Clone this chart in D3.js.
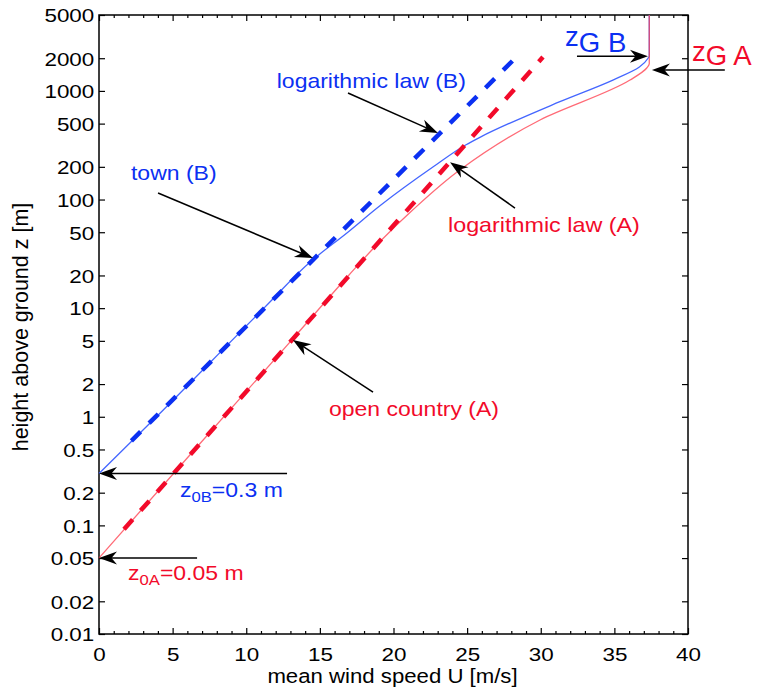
<!DOCTYPE html>
<html>
<head>
<meta charset="utf-8">
<script src="https://cdn.jsdelivr.net/npm/d3@7"></script>
<style>
  html, body { margin: 0; padding: 0; background: #fff; }
  svg { display: block; font-family: "Liberation Sans", Arial, Helvetica, sans-serif; }
</style>
</head>
<body>
<svg id="chart" width="757" height="698"></svg>
<script>
// ---- axis ticks ----
const xTickValues = [0, 5, 10, 15, 20, 25, 30, 35, 40];
const xMinorTicks = [1, 2, 3, 4, 6, 7, 8, 9, 11, 12, 13, 14, 16, 17, 18, 19, 21, 22, 23, 24,
                     26, 27, 28, 29, 31, 32, 33, 34, 36, 37, 38, 39];
const yTickValues = [0.01, 0.02, 0.05, 0.1, 0.2, 0.5, 1, 2, 5, 10, 20, 50, 100, 200, 500, 1000, 2000, 5000];
const yTickLabels = ["0.01", "0.02", "0.05", "0.1", "0.2", "0.5", "1", "2", "5", "10", "20", "50",
                     "100", "200", "500", "1000", "2000", "5000"];

// ---- wind profiles: mean speed U [m/s] against height z [m] ----
// town (B), z0 = 0.3 m
const townU = [0, 3.9, 11.2, 14.5, 16.9, 19.1, 22.7, 24.9, 25.9, 31.3, 34.9, 36.7, 37.3, 37.37, 37.37];
const townZ = [0.3, 1, 10, 27.7, 50, 88, 200, 318, 376, 796, 1259, 1660, 2010, 2090, 5000];
// open country (A), z0 = 0.05 m
const openU = [0, 6.5, 13.1, 16.95, 19.0, 21.3, 24.5, 29.95, 36.06, 37.2, 37.37, 37.37];
const openZ = [0.05, 0.5, 5.1, 20, 40, 80, 187, 540, 1259, 1626, 1780, 5000];
// logarithmic law lines (start and end of each straight line)
const logLawBU = [2.2, 28.6];
const logLawBZ = [0.6, 2220];
const logLawAU = [1.7, 30.15];
const logLawAZ = [0.092, 2050];

// ---- layout ----
const plotLeft = 99, plotRight = 688, plotTop = 15, plotBottom = 634;
const blue = "#0b30f2", red = "#f20a2a";
const blueThin = "#4466ff", redThin = "#ff4050";
const stretch = 1.15;

const svg = d3.select("#chart");
const x = d3.scaleLinear().domain([0, 40]).range([plotLeft, plotRight]);
const y = d3.scaleLog().domain([0.01, 5000]).range([plotBottom, plotTop]);

// ---- axes ----
function styleAxis(g, keepText) {
  g.select(".domain").remove();
  g.attr("font-family", null).attr("font-size", null);
  g.selectAll(".tick line").attr("stroke", "#000").attr("stroke-width", 1.2);
  if (!keepText) g.selectAll(".tick text").remove();
  else g.selectAll(".tick text").attr("fill", "#000").attr("font-size", 19);
}

const gxb = svg.append("g").attr("transform", `translate(0,${plotBottom})`)
  .call(d3.axisBottom(x).tickValues(xTickValues).tickSizeInner(-6).tickSizeOuter(0)
    .tickPadding(14).tickFormat(d => String(d)));
styleAxis(gxb, true);
gxb.selectAll(".tick text").attr("transform", "scale(1.18,1)");

const gxbm = svg.append("g").attr("transform", `translate(0,${plotBottom})`)
  .call(d3.axisBottom(x).tickValues(xMinorTicks).tickSizeInner(-3).tickSizeOuter(0));
styleAxis(gxbm, false);

const gxt = svg.append("g").attr("transform", `translate(0,${plotTop})`)
  .call(d3.axisTop(x).tickValues(xTickValues).tickSizeInner(-6).tickSizeOuter(0));
styleAxis(gxt, false);
const gxtm = svg.append("g").attr("transform", `translate(0,${plotTop})`)
  .call(d3.axisTop(x).tickValues(xMinorTicks).tickSizeInner(-3).tickSizeOuter(0));
styleAxis(gxtm, false);

const gyl = svg.append("g").attr("transform", `translate(${plotLeft},0)`)
  .call(d3.axisLeft(y).tickValues(yTickValues).tickSizeInner(-6).tickSizeOuter(0)
    .tickPadding(4).tickFormat((d, i) => yTickLabels[i]));
styleAxis(gyl, true);
gyl.selectAll(".tick text").attr("dy", "0.36em").attr("transform", "scale(1.18,1)");

const gyr = svg.append("g").attr("transform", `translate(${plotRight},0)`)
  .call(d3.axisRight(y).tickValues(yTickValues).tickSizeInner(-6).tickSizeOuter(0));
styleAxis(gyr, false);

// frame
svg.append("rect")
  .attr("x", plotLeft).attr("y", plotTop)
  .attr("width", plotRight - plotLeft).attr("height", plotBottom - plotTop)
  .attr("fill", "none").attr("stroke", "#000").attr("stroke-width", 1.5);

// axis titles
svg.append("text")
  .attr("transform", `translate(${(plotLeft + plotRight) / 2 - 1},683) scale(${stretch},1)`)
  .attr("text-anchor", "middle").attr("font-size", 19.3).attr("fill", "#000")
  .text("mean wind speed U [m/s]");
svg.append("text")
  .attr("transform", "translate(28,327) rotate(-90)")
  .attr("text-anchor", "middle").attr("font-size", 21.5).attr("fill", "#000")
  .text("height above ground z [m]");

// ---- profile lines ----
const smooth = d3.line().curve(d3.curveMonotoneY).x(d => x(d[0])).y(d => y(d[1]));
const straight = d3.line().x(d => x(d[0])).y(d => y(d[1]));
const zip = (us, zs) => us.map((u, i) => [u, zs[i]]);

svg.append("path").datum(zip(townU, townZ))
  .attr("d", smooth).attr("fill", "none")
  .attr("stroke", blueThin).attr("stroke-width", 1.3);
svg.append("path").datum(zip(openU, openZ))
  .attr("d", smooth).attr("fill", "none")
  .attr("stroke", redThin).attr("stroke-opacity", 0.78).attr("stroke-width", 1.3);

svg.append("path").datum(zip(logLawBU, logLawBZ))
  .attr("d", straight).attr("fill", "none")
  .attr("stroke", blue).attr("stroke-width", 4.5).attr("stroke-dasharray", "13,12");
svg.append("path").datum(zip(logLawAU, logLawAZ))
  .attr("d", straight).attr("fill", "none")
  .attr("stroke", red).attr("stroke-width", 4.5).attr("stroke-dasharray", "13,12");

// ---- annotations (anchored in data coordinates: [U, z]) ----
const arrows = [
  { from: [4.01, 114.8], to: [14.53, 28.9] },   // town (B)
  { from: [16.91, 957], to: [23.02, 410] },     // logarithmic law (B)
  { from: [28.25, 83.5], to: [23.84, 221] },    // logarithmic law (A)
  { from: [18.61, 1.69], to: [13.17, 5.1] },    // open country (A)
  { from: [12.77, 0.3], to: [0, 0.3] },         // z0B
  { from: [6.66, 0.05], to: [0, 0.05] },        // z0A
  { from: [32.46, 2090], to: [37.28, 2090] },   // zG B
  { from: [42.5, 1557], to: [37.55, 1557] }     // zG A
];

const ag = svg.append("g");
arrows.forEach(a => {
  const x0 = x(a.from[0]), y0 = y(a.from[1]);
  const x1 = x(a.to[0]), y1 = y(a.to[1]);
  const ang = Math.atan2(y1 - y0, x1 - x0);
  const notch = 12;
  ag.append("line")
    .attr("x1", x0).attr("y1", y0)
    .attr("x2", x1 - notch * Math.cos(ang)).attr("y2", y1 - notch * Math.sin(ang))
    .attr("stroke", "#000").attr("stroke-width", 1.5);
  ag.append("path")
    .attr("transform", `translate(${x1},${y1}) rotate(${ang * 180 / Math.PI})`)
    .attr("d", "M0,0 L-18,-6.5 L-12.5,0 L-18,6.5 Z")
    .attr("fill", "#000");
});

// text labels; each part is [string, font size, baseline shift]
const labels = [
  { at: [2.17, 151], color: blue, k: stretch, parts: [["town (B)", 20, 0]] },
  { at: [12.07, 1057], color: blue, k: stretch, parts: [["logarithmic law (B)", 20, 0]] },
  { at: [23.7, 50.6], color: red, k: stretch, parts: [["logarithmic law (A)", 20.3, 0]] },
  { at: [15.62, 1.023], color: red, k: stretch, parts: [["open country (A)", 20, 0]] },
  { at: [5.5, 0.1825], color: blue, k: stretch,
    parts: [["z", 20, 0], ["0B", 14.5, 5], ["=0.3 m", 20, 0]] },
  { at: [1.97, 0.0314], color: red, k: stretch,
    parts: [["z", 20, 0], ["0A", 14.5, 5], ["=0.05 m", 20, 0]] },
  { at: [31.65, 2296], color: blue, k: 1.02, parts: [["z", 27, -6], ["G B", 27, 0]] },
  { at: [40.27, 1731], color: red, k: 1.02, parts: [["z", 27, -4], ["G A", 27, 0]] }
];

labels.forEach(l => {
  const t = svg.append("text")
    .attr("transform", `translate(${x(l.at[0])},${y(l.at[1])}) scale(${l.k},1)`)
    .attr("fill", l.color);
  let prev = 0;
  l.parts.forEach(p => {
    t.append("tspan")
      .attr("font-size", p[1])
      .attr("dy", p[2] - prev)
      .text(p[0]);
    prev = p[2];
  });
});
</script>
</body>
</html>
